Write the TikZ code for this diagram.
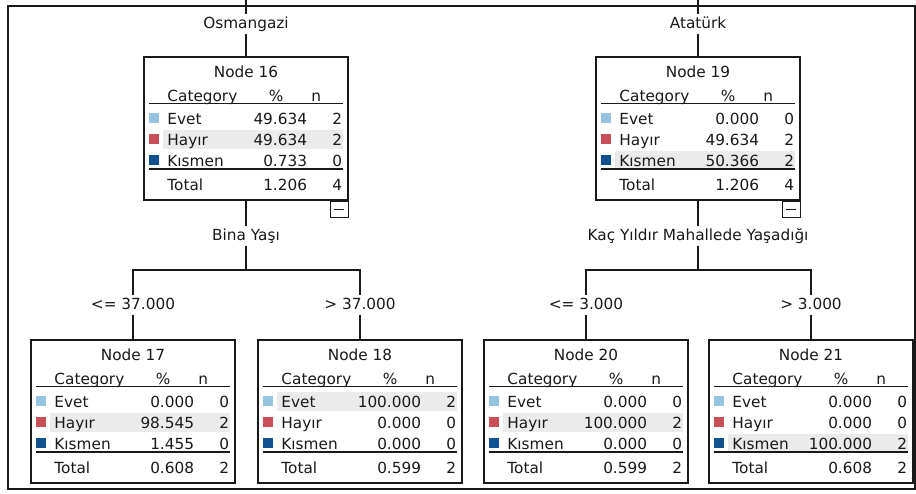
\documentclass[tikz,border=0pt]{standalone}
\usepackage{fontspec}
\setmainfont{DejaVu Sans}
\usetikzlibrary{calc}
\definecolor{cEvet}{RGB}{150,196,222}
\definecolor{cHayir}{RGB}{199,79,87}
\definecolor{cKismen}{RGB}{16,82,145}
\definecolor{hl}{RGB}{235,235,235}
\definecolor{ink}{RGB}{25,25,25}
\tikzset{
  every node/.style={font=\fontsize{15.3}{18}\selectfont, text=ink},
  treebox/.style={draw=ink, line width=1.5pt, fill=white, minimum width=204pt, minimum height=143pt, inner sep=0pt},
  cell/.style={inner sep=0pt, text height=11pt, text depth=0pt},
  lbl/.style={inner xsep=3pt, inner ysep=2.5pt, text height=11pt, text depth=3pt},
  conn/.style={draw=ink, line width=1.5pt},
  rule/.style={draw=ink, line width=1.5pt},
  thickrule/.style={draw=ink, line width=2pt},
  swatch/.style={inner sep=0pt, minimum width=10pt, minimum height=10pt},
  collapse/.style={draw=ink, line width=1.2pt, fill=white, minimum width=18pt, minimum height=16pt, inner sep=0pt},
  frame/.style={draw=ink, line width=2pt},
}
% #1 name, #2 cx, #3 top, #4 number, #5 highlighted row
\newcommand\treebox[5]{%
  \node[treebox] (#1) at (#2,#3+71.5) {};
  \coordinate (#1-nw) at (#1.north west);
  \ifcase#5\or\def\hly{62}\or\def\hly{83}\or\def\hly{104}\fi
  \fill[hl] ($(#1-nw)+(20,\hly-9.5)$) rectangle ($(#1.north east)+(-6,\hly+10)$);
  \node[cell] (#1-title) at ($(#1.north)+(0,15.5)$) {Node #4};
  \node[cell,anchor=west] (#1-cat) at ($(#1-nw)+(24,39.5)$) {Category};
  \node[cell] (#1-pcth) at ($(#1-nw)+(133,39.5)$) {\%};
  \node[cell] (#1-nh) at ($(#1-nw)+(173,39.5)$) {n};
  \draw[rule] ($(#1-nw)+(6,47)$) -- ($(#1.north east)+(-6,47)$);
  \node[swatch,fill=cEvet] (#1-sq1) at ($(#1-nw)+(11,61.5)$) {};
  \node[swatch,fill=cHayir] (#1-sq2) at ($(#1-nw)+(11,82.5)$) {};
  \node[swatch,fill=cKismen] (#1-sq3) at ($(#1-nw)+(11,103.5)$) {};
  \draw[thickrule] ($(#1-nw)+(6,113)$) -- ($(#1.north east)+(-6,113)$);
}
% #1 name, #2..#9 values
\newcommand\treerows[9]{%
  \node[cell,anchor=west] (#1-l1) at ($(#1-nw)+(24,62.5)$) {Evet};
  \node[cell,anchor=east] (#1-p1) at ($(#1-nw)+(164,62.5)$) {#2};
  \node[cell,anchor=east] (#1-n1) at ($(#1-nw)+(199,62.5)$) {#3};
  \node[cell,anchor=west] (#1-l2) at ($(#1-nw)+(24,83.5)$) {Hayır};
  \node[cell,anchor=east] (#1-p2) at ($(#1-nw)+(164,83.5)$) {#4};
  \node[cell,anchor=east] (#1-n2) at ($(#1-nw)+(199,83.5)$) {#5};
  \node[cell,anchor=west] (#1-l3) at ($(#1-nw)+(24,104.5)$) {Kısmen};
  \node[cell,anchor=east] (#1-p3) at ($(#1-nw)+(164,104.5)$) {#6};
  \node[cell,anchor=east] (#1-n3) at ($(#1-nw)+(199,104.5)$) {#7};
  \node[cell,anchor=west] (#1-lt) at ($(#1-nw)+(24,128.5)$) {Total};
  \node[cell,anchor=east] (#1-pt) at ($(#1-nw)+(164,128.5)$) {#8};
  \node[cell,anchor=east] (#1-nt) at ($(#1-nw)+(199,128.5)$) {#9};
}
\newcommand\collapsebox[1]{%
  \node[collapse,anchor=north east] (#1-col) at (#1.south east) {};
  \draw[line width=1.2pt, ink] ($(#1-col.center)+(-5,0)$) -- ($(#1-col.center)+(5,0)$);
}
\begin{document}
\begin{tikzpicture}[x=1pt,y=-1pt]
\useasboundingbox (0,0) rectangle (916,493);
\draw[frame] (8,6) rectangle (915,489);

% level 1
\treebox{n16}{246}{57}{16}{2}
\treerows{n16}{49.634}{2}{49.634}{2}{0.733}{0}{1.206}{4}
\collapsebox{n16}
\treebox{n19}{698}{57}{19}{3}
\treerows{n19}{0.000}{0}{49.634}{2}{50.366}{2}{1.206}{4}
\collapsebox{n19}

% level 2
\treebox{n17}{133}{340}{17}{2}
\treerows{n17}{0.000}{0}{98.545}{2}{1.455}{0}{0.608}{2}
\treebox{n18}{360}{340}{18}{1}
\treerows{n18}{100.000}{2}{0.000}{0}{0.000}{0}{0.599}{2}
\treebox{n20}{586}{340}{20}{2}
\treerows{n20}{0.000}{0}{100.000}{2}{0.000}{0}{0.599}{2}
\treebox{n21}{811}{340}{21}{3}
\treerows{n21}{0.000}{0}{0.000}{0}{100.000}{2}{0.608}{2}

% connectors left
\coordinate (p16) at (246,0);
\node[lbl] (l16) at (246,24) {Osmangazi};
\draw[conn] (p16) -- (l16.north);
\draw[conn] (l16.south) -- (n16.north);
\node[lbl] (s16) at (246,236) {Bina Yaşı};
\draw[conn] (n16.south) -- (s16.north);
\coordinate (j16) at (246,270);
\draw[conn] (s16.south) -- (j16);
\node[lbl] (l17) at (133,305) {<= 37.000};
\node[lbl] (l18) at (360,305) {> 37.000};
\draw[conn] (l17.north) |- (j16) -| (l18.north);
\draw[conn] (l17.south) -- (n17.north);
\draw[conn] (l18.south) -- (n18.north);

% connectors right
\coordinate (p19) at (698,0);
\node[lbl] (l19) at (698,24) {Atatürk};
\draw[conn] (p19) -- (l19.north);
\draw[conn] (l19.south) -- (n19.north);
\node[lbl] (s19) at (698,236) {Kaç Yıldır Mahallede Yaşadığı};
\draw[conn] (n19.south) -- (s19.north);
\coordinate (j19) at (698,270);
\draw[conn] (s19.south) -- (j19);
\node[lbl] (l20) at (586,305) {<= 3.000};
\node[lbl] (l21) at (811,305) {> 3.000};
\draw[conn] (l20.north) |- (j19) -| (l21.north);
\draw[conn] (l20.south) -- (n20.north);
\draw[conn] (l21.south) -- (n21.north);
\end{tikzpicture}
\end{document}
